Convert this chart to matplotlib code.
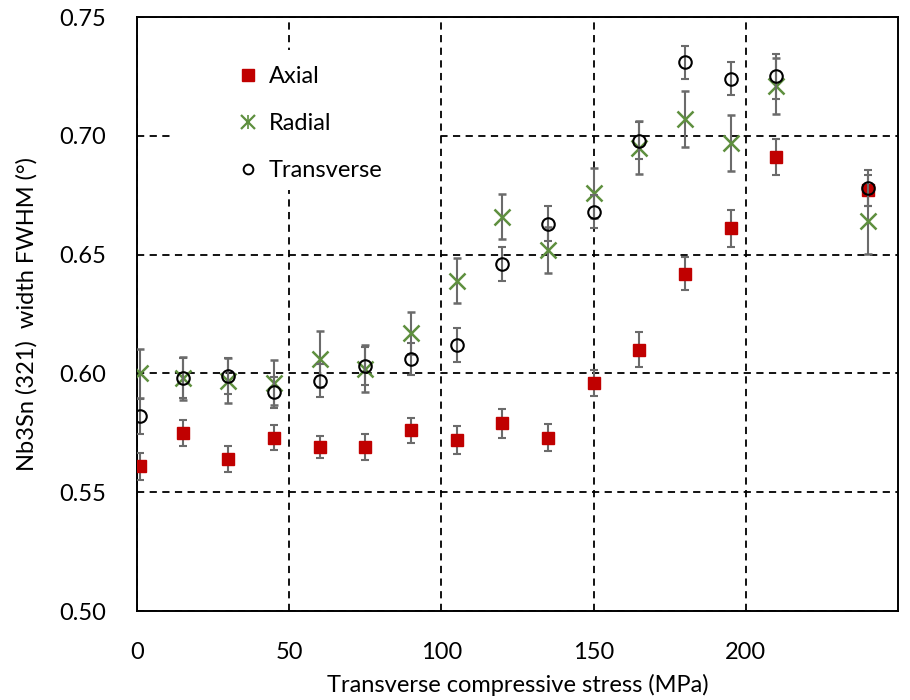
import numpy as np
import matplotlib.pyplot as plt
from matplotlib.lines import Line2D
from matplotlib.patches import Rectangle

plt.rcParams['font.family'] = ['Lato', 'DejaVu Sans']

# applied transverse stress (MPa)
stress = [1, 15, 30, 45, 60, 75, 90, 105, 120, 135, 150, 165, 180, 195, 210, 240]

# Nb3Sn (321) peak width, FWHM in degrees, with errors
axial = [0.561, 0.575, 0.564, 0.573, 0.569, 0.569, 0.576, 0.572, 0.579, 0.573,
         0.596, 0.610, 0.642, 0.661, 0.691, 0.677]
axial_err = [0.0057, 0.0055, 0.0053, 0.0053, 0.0046, 0.0055, 0.0053, 0.0060, 0.0062, 0.0056,
             0.0055, 0.0074, 0.0069, 0.0077, 0.0077, 0.0067]

radial = [0.600, 0.598, 0.597, 0.596, 0.606, 0.602, 0.617, 0.639, 0.666, 0.652,
          0.676, 0.695, 0.707, 0.697, 0.721, 0.664]
radial_err = [0.0102, 0.0090, 0.0095, 0.0095, 0.0117, 0.0098, 0.0090, 0.0095, 0.0094, 0.0098,
              0.0105, 0.0112, 0.0117, 0.0116, 0.0117, 0.0138]

transverse = [0.582, 0.598, 0.599, 0.592, 0.597, 0.603, 0.606, 0.612, 0.646, 0.663,
              0.668, 0.698, 0.731, 0.724, 0.725, 0.678]
transverse_err = [0.0073, 0.0085, 0.0075, 0.0065, 0.0070, 0.0080, 0.0066, 0.0070, 0.0072, 0.0074,
                  0.0070, 0.0077, 0.0070, 0.0069, 0.0094, 0.0076]

red = '#C00000'
green = '#5E8F3E'
err_color = '#6b6b6b'

fig = plt.figure(figsize=(9.1, 7.0), dpi=100)
ax = fig.add_axes([0.1505, 0.1271, 0.8363, 0.8486])

eb_kw = dict(ecolor=err_color, elinewidth=1.5, capsize=2.7, capthick=1.5, linestyle='none')

ax.errorbar(stress, axial, yerr=axial_err, marker='s', markersize=8,
            markerfacecolor=red, markeredgecolor=red, zorder=3, **eb_kw)
ax.errorbar(stress, radial, yerr=radial_err, marker='x', markersize=11, markeredgewidth=1.8,
            color=green, zorder=3, **eb_kw)
ax.errorbar(stress, transverse, yerr=transverse_err, marker='o', markersize=9,
            markerfacecolor='none', markeredgecolor='black', markeredgewidth=1.5, zorder=4, **eb_kw)

ax.set_xlim(0, 250)
ax.set_ylim(0.50, 0.75)
ax.set_xticks([0, 50, 100, 150, 200])
ax.set_yticks([0.50, 0.55, 0.60, 0.65, 0.70, 0.75])
ax.set_yticklabels(['0.50', '0.55', '0.60', '0.65', '0.70', '0.75'])

ax.grid(True, color='black', linestyle=(0, (4, 3)), linewidth=1.3)
ax.set_axisbelow(True)
for s in ax.spines.values():
    s.set_color('black')
    s.set_linewidth(1.4)

ax.tick_params(length=0, labelsize=17, pad=22)
ax.set_xlabel('Transverse compressive stress (MPa)', fontsize=17, labelpad=8)
ax.set_ylabel('Nb3Sn (321)  width FWHM (°)', fontsize=17, labelpad=16)

# white block behind the legend that hides the grid
ax.add_patch(Rectangle((0.0434, 0.709), 0.355, 0.235, transform=ax.transAxes,
                       facecolor='white', edgecolor='none', zorder=1))

star = (Line2D([], [], linestyle='none', marker='x', markersize=10, markeredgewidth=1.6, color=green),
        Line2D([], [], linestyle='none', marker='|', markersize=10, markeredgewidth=1.2, color=green))
handles = [
    Line2D([], [], linestyle='none', marker='s', markersize=8, color=red),
    star,
    Line2D([], [], linestyle='none', marker='o', markersize=7, markerfacecolor='none',
           markeredgecolor='black', markeredgewidth=1.4),
]
leg = ax.legend(handles, ['Axial', 'Radial', 'Transverse'], loc='upper left',
                bbox_to_anchor=(0.0926, 0.9685), fontsize=17, frameon=False,
                labelspacing=1.1, handlelength=0.8, handletextpad=0.5, borderpad=0.8)

fig.savefig('out.png', dpi=100)
